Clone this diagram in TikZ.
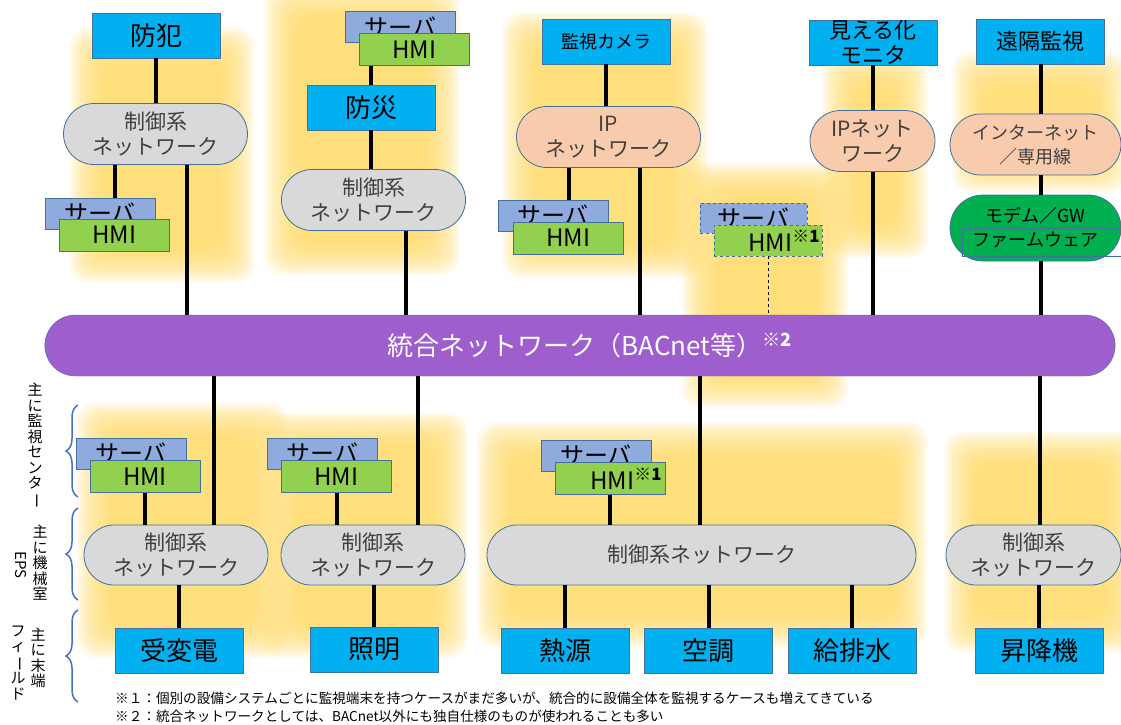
\documentclass[tikz,border=0pt]{standalone}
\usepackage{fontspec}
\setmainfont{Noto Sans CJK JP}
\usetikzlibrary{shapes.misc, decorations.pathreplacing}

\definecolor{devblue}{HTML}{00B0F0}
\definecolor{netgray}{HTML}{D9D9D9}
\definecolor{ippeach}{HTML}{F8CBAD}
\definecolor{modemgreen}{HTML}{00B050}
\definecolor{srvblue}{HTML}{8FAADC}
\definecolor{hmigreen}{HTML}{92D050}
\definecolor{buspurple}{HTML}{9E5ECE}
\definecolor{glowyellow}{HTML}{FFD966}
\definecolor{edge}{HTML}{41719C}
\definecolor{bracecol}{HTML}{4472C4}
\definecolor{nettext}{HTML}{404040}

\newcommand{\bigjp}{\fontsize{26}{28}\selectfont}
\newcommand{\midjp}{\fontsize{21}{25}\selectfont}
\newcommand{\smalljp}{\fontsize{18}{24}\selectfont}
\newcommand{\vbar}{\rotatebox[origin=c]{-90}{ー}}

\tikzstyle{glow} = [fill=glowyellow, opacity=0.12, rounded corners=18pt]
\tikzstyle{dev} = [draw=edge, fill=devblue, minimum width=128pt, minimum height=45pt, inner sep=0pt, font=\bigjp, align=center]
\tikzstyle{net} = [rounded rectangle, draw=edge, line width=0.8pt, fill=netgray, minimum width=184pt, minimum height=61pt, inner sep=0pt, font=\midjp, text=nettext, align=center]
\tikzstyle{srv} = [draw=edge, fill=srvblue, minimum width=110pt, minimum height=31pt, inner sep=0pt, font=\fontsize{24}{26}\selectfont]
\tikzstyle{hmi} = [draw=edge, fill=hmigreen, minimum width=110pt, minimum height=32pt, inner sep=0pt, font=\fontsize{24}{26}\selectfont]
\tikzstyle{link} = [line width=4pt]
\tikzstyle{side} = [font=\fontsize{15}{15.5}\selectfont, align=center, inner sep=0pt]
\tikzstyle{sidebrace} = [draw=bracecol, line width=1.5pt, decorate, decoration={brace, amplitude=12pt}]
\tikzstyle{note} = [font=\fontsize{13.6}{15}\selectfont, anchor=west, inner sep=0pt]

\begin{document}
\begin{tikzpicture}[x=1pt, y=-1pt]
\useasboundingbox (0,0) rectangle (1121,725);

% glows
\foreach \cx/\cy/\w/\h in {162/155/185/255, 362/130/195/290, 605/145/205/265, 765/285/165/245, 875/155/105/205, 1040/122/175/140, 182/530/210/255, 365/535/205/245, 702/535/450/225, 1042/542/195/220}
  \foreach \k in {0,...,14}
    \fill[glow] (\cx-\w/2+2.5*\k,\cy-\h/2+2.5*\k) rectangle (\cx+\w/2-2.5*\k,\cy+\h/2-2.5*\k);

% upper systems
\node[dev] (bouhan) at (156,35.5) {防犯};
\node[net] (cn1) at (155.5,134) {制御系\\ネットワーク};
\node[srv] (sv1) at (100,213.5) {サーバ};
\node[hmi] (hmi1) at (114.5,235) {HMI};

\node[srv] (sv2) at (400.5,27) {サーバ};
\node[hmi] (hmi2) at (414.5,49.5) {HMI};
\node[dev] (bousai) at (371,107.5) {防災};
\node[net] (cn2) at (373.5,200) {制御系\\ネットワーク};

\node[dev, font=\fontsize{18}{20}\selectfont] (camera) at (606,41.5) {監視カメラ};
\node[net, fill=ippeach] (ip1) at (608.5,137) {IP\\ネットワーク};
\node[srv] (sv3) at (553,215.5) {サーバ};
\node[hmi] (hmi3) at (568.5,238) {HMI};

\node[srv, dashed, minimum width=107pt, minimum height=30pt] (sv4) at (753.5,218) {サーバ};
\node[hmi, dashed, minimum width=108pt, minimum height=31pt, text width=104pt, align=right] (hmi4) at (768,240.5) {HMI\textsuperscript{\textbf{※1}}};

\node[dev, font=\fontsize{22}{25}\selectfont] (monitor) at (873,42.5) {見える化\\モニタ};
\node[net, fill=ippeach, minimum width=125pt] (ip2) at (872.5,141) {IPネット\\ワーク};

\node[dev, font=\fontsize{22}{25}\selectfont] (remote) at (1040.5,41.5) {遠隔監視};
\node[net, fill=ippeach, minimum width=171pt, font=\smalljp] (inet) at (1035.5,144.5) {インターネット\\／専用線};
\node[net, fill=modemgreen, minimum width=171pt, minimum height=66pt, font=\smalljp, text=black] (modem) at (1035.5,228) {モデム／GW\\ファームウェア};
\node[draw=edge, minimum width=163pt, minimum height=28pt] (firm) at (1043.5,242) {};

% integrated network
\node[rounded rectangle, draw=edge, fill=buspurple, minimum width=1077pt, minimum height=61pt, text=white, font=\fontsize{26}{28}\selectfont] (bus) at (580,345.5) {\hspace*{20pt}統合ネットワーク（BACnet等）\textsuperscript{\textbf{※2}}};

% lower systems
\node[srv] (svA) at (131,453.5) {サーバ};
\node[hmi] (hmiA) at (145,476.5) {HMI};
\node[net, minimum height=60pt] (cnA) at (176,555) {制御系\\ネットワーク};
\node[dev] (juhen) at (179,650.5) {受変電};

\node[srv] (svB) at (322.5,453.5) {サーバ};
\node[hmi] (hmiB) at (336.5,476.5) {HMI};
\node[net, minimum height=60pt] (cnB) at (373,555) {制御系\\ネットワーク};
\node[dev] (shoumei) at (374,649.5) {照明};

\node[srv] (svC) at (596,455.5) {サーバ};
\node[hmi, text width=104pt, align=right] (hmiC) at (610,478.5) {HMI\textsuperscript{\textbf{※1}}};
\node[net, minimum width=429pt, minimum height=60pt] (cnC) at (701.5,555) {制御系ネットワーク};
\node[dev] (netsugen) at (565,650.5) {熱源};
\node[dev] (kuchou) at (708.5,650.5) {空調};
\node[dev] (kyuhai) at (852,650.5) {給排水};

\node[net, minimum width=175pt, minimum height=60pt] (cnD) at (1033.5,555) {制御系\\ネットワーク};
\node[dev] (shoukou) at (1039,650.5) {昇降機};

% connections above the bus
\draw[link] (bouhan.south) -- (bouhan.south |- cn1.north);
\draw[link] (hmi1 |- cn1.south) -- (hmi1 |- sv1.north);
\draw[link] (cn1.south -| 187,0) -- (bus.north -| 187,0);
\draw[link] (bousai |- hmi2.south) -- (bousai.north);
\draw[link] (bousai.south) -- (bousai.south |- cn2.north);
\draw[link] (cn2.south -| 406,0) -- (bus.north -| 406,0);
\draw[link] (camera.south) -- (camera.south |- ip1.north);
\draw[link] (hmi3 |- ip1.south) -- (hmi3 |- sv3.north);
\draw[link] (ip1.south -| 640,0) -- (bus.north -| 640,0);
\draw[dashed, line width=0.8pt] (hmi4.south) -- (hmi4.south |- bus.north);
\draw[link] (ip2.north) -- (ip2.north |- monitor.south);
\draw[link] (ip2.south) -- (ip2.south |- bus.north);
\draw[link] (remote.south) -- (remote.south |- inet.north);
\draw[link] (inet.south -| remote) -- (modem.north -| remote);
\draw[link] (modem.south -| remote) -- (bus.north -| remote);

% connections below the bus
\draw[link] (hmiA.south) -- (hmiA.south |- cnA.north);
\draw[link] (bus.south -| 214,0) -- (cnA.north -| 214,0);
\draw[link] (juhen.north) -- (juhen.north |- cnA.south);
\draw[link] (hmiB.south) -- (hmiB.south |- cnB.north);
\draw[link] (bus.south -| 418,0) -- (cnB.north -| 418,0);
\draw[link] (shoumei.north) -- (shoumei.north |- cnB.south);
\draw[link] (hmiC.south) -- (hmiC.south |- cnC.north);
\draw[link] (bus.south -| 700,0) -- (cnC.north -| 700,0);
\draw[link] (netsugen.north) -- (netsugen.north |- cnC.south);
\draw[link] (kuchou.north) -- (kuchou.north |- cnC.south);
\draw[link] (kyuhai.north) -- (kyuhai.north |- cnC.south);
\draw[link] (bus.south -| 1040,0) -- (cnD.north -| 1040,0);
\draw[link] (shoukou.north) -- (shoukou.north |- cnD.south);

% level labels
\node[side] (lvcenter) at (35,446) {主\\に\\監\\視\\セ\\ン\\タ\\\vbar};
\node[side] (lvroom) at (40,563) {主\\に\\機\\械\\室};
\node[side, rotate=-90] (lveps) at (21,565) {EPS};
\node[side] (lvend) at (38,658) {主\\に\\末\\端};
\node[side] (lvfield) at (18,663) {フ\\ィ\\\vbar\\ル\\ド};
\draw[sidebrace] (78,497) -- (78,405);
\draw[sidebrace] (78,600) -- (78,508);
\draw[sidebrace] (78,702) -- (78,610);

% notes
\node[note] (note1) at (115,698) {※１：個別の設備システムごとに監視端末を持つケースがまだ多いが、統合的に設備全体を監視するケースも増えてきている};
\node[note] (note2) at (115,716) {※２：統合ネットワークとしては、BACnet以外にも独自仕様のものが使われることも多い};
\end{tikzpicture}
\end{document}
